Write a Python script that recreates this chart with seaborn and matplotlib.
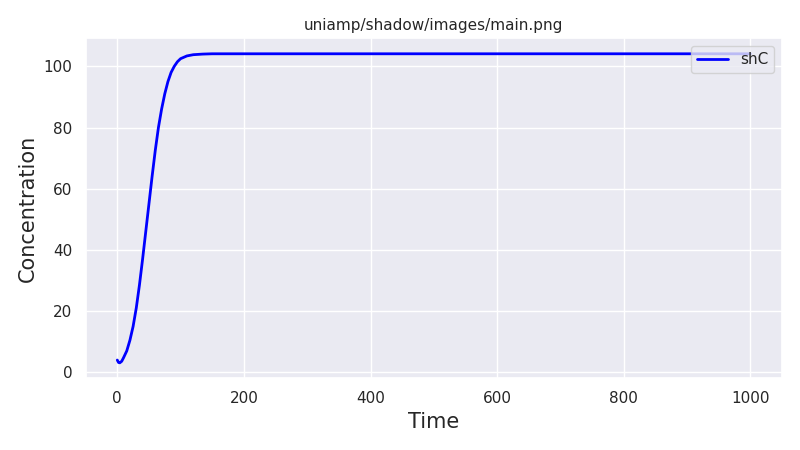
import matplotlib
matplotlib.use("Agg")
import matplotlib.pyplot as plt
import seaborn as sns
import pandas as pd

sns.set_theme(style="darkgrid")

time = [0, 2, 4, 7, 10, 15, 20, 25, 30, 35, 40, 45, 50, 55, 60, 65, 70, 75, 80, 85, 90, 95, 100, 110, 120, 135, 150, 200, 300, 500, 700, 1000]
shC = [4.0, 3.2, 3.1, 3.6, 4.8, 7.0, 10.5, 15.0, 21.0, 28.5, 37.0, 46.0, 55.0, 64.0, 72.5, 80.0, 86.0, 91.0, 95.0, 98.0, 100.0, 101.5, 102.5, 103.4, 103.8, 104.0, 104.1, 104.1, 104.1, 104.1, 104.1, 104.1]

df = pd.DataFrame({"Time": time, "shC": shC})

fig, ax = plt.subplots(figsize=(8, 4.5), dpi=100)
sns.lineplot(data=df, x="Time", y="shC", color="blue", linewidth=2, label="shC", ax=ax)
ax.set_title("uniamp/shadow/images/main.png", fontsize=11)
ax.set_xlabel("Time", fontsize=15)
ax.set_ylabel("Concentration", fontsize=15)
ax.legend(loc="upper right")
fig.tight_layout()
fig.savefig("out.png")
